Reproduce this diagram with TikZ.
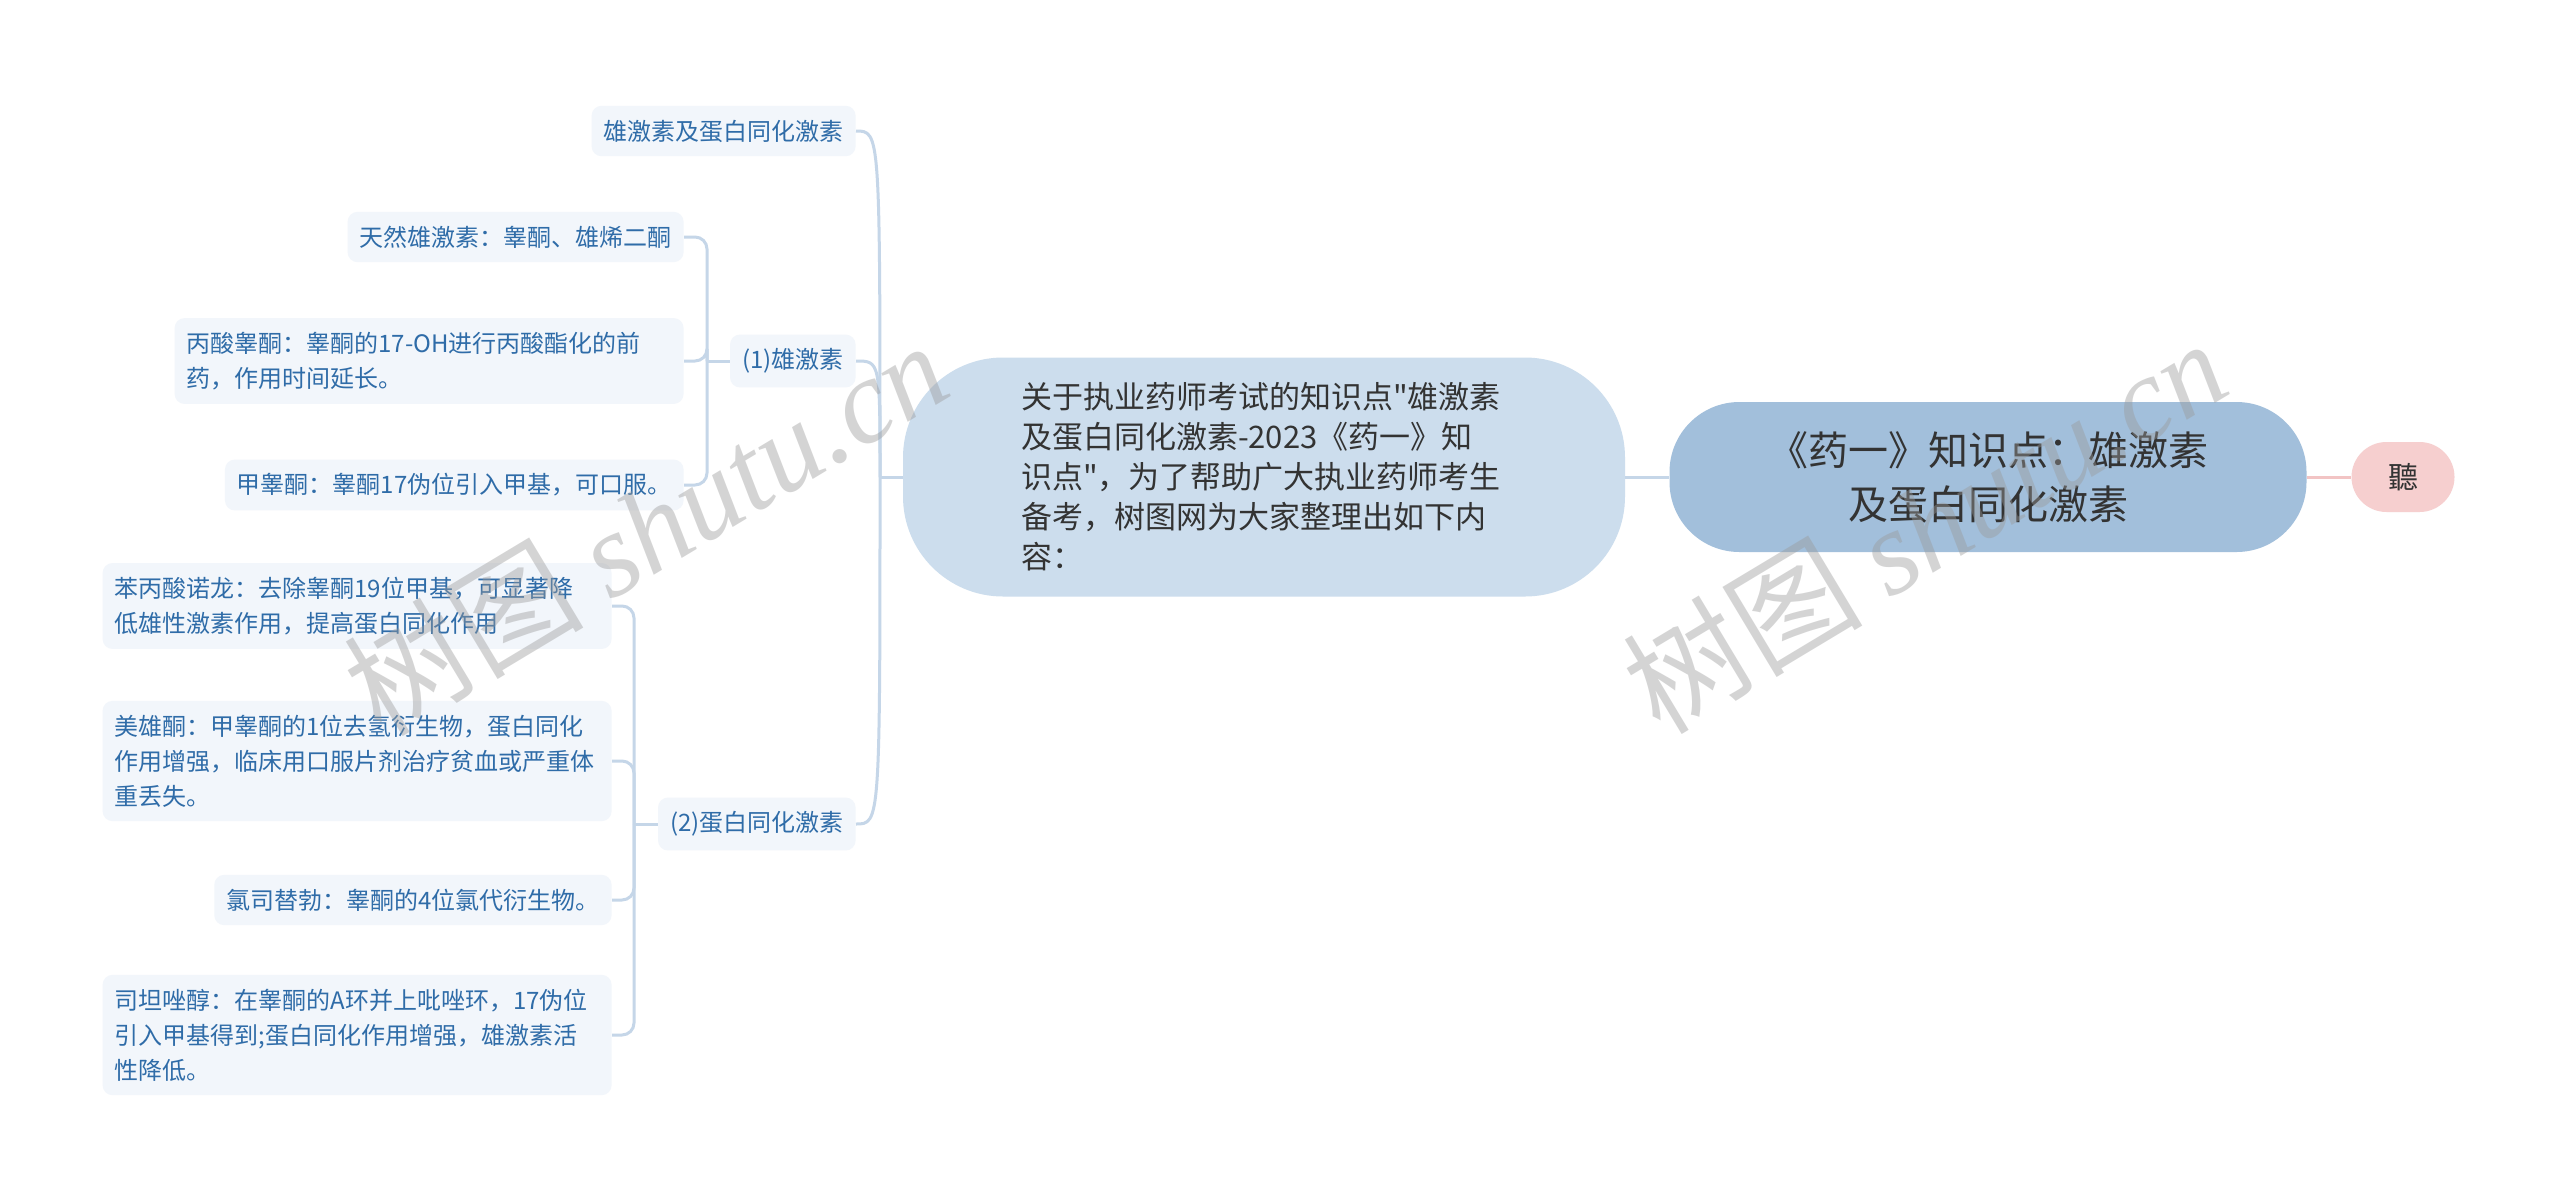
\documentclass[tikz,border=0pt]{standalone}
\usepackage{fontspec}
\setmainfont{Noto Sans CJK SC}[Ligatures=TeXOff]
\newfontfamily\wmfont{Liberation Serif}
\definecolor{linkblue}{HTML}{C5D6E8}
\definecolor{leaffill}{HTML}{F2F6FB}
\definecolor{leaftext}{HTML}{2F6CA8}
\definecolor{descfill}{HTML}{CCDDED}
\definecolor{rootfill}{HTML}{A2BFDB}
\definecolor{tingfill}{HTML}{F6CFCF}
\definecolor{pinkline}{HTML}{F2C4C4}
\definecolor{textdark}{HTML}{333333}
\definecolor{wmgray}{HTML}{9A9A9A}
\tikzset{
  link/.style={draw=linkblue, line width=1.5pt},
  leaf/.style={fill=leaffill, text=leaftext, rounded corners=5pt, inner xsep=6pt, inner ysep=7pt,
    anchor=east, align=left, font=\fontsize{12}{17.5}\selectfont},
  wide/.style={leaf, text width=242.5pt},
  wm/.style={text=wmgray, opacity=0.42, rotate=31, font=\fontsize{60}{60}\selectfont}
}
\begin{document}
\begin{tikzpicture}[x=0.5pt, y=-0.5pt]
\fill[white] (0,0) rectangle (2560,1201);
\useasboundingbox (0,0) rectangle (2560,1201);
\node[fill=rootfill, text=textdark, rounded corners=35pt, minimum width=318.5pt, minimum height=75pt,
  align=center, font=\fontsize{20}{27}\selectfont] (root) at (1988,477) {《药一》知识点：雄激素\\及蛋白同化激素};
\node[fill=tingfill, text=textdark, rounded corners=17.5pt, minimum width=51.5pt, minimum height=35pt,
  font=\fontsize{15}{15}\selectfont] (ting) at (2403,477) {聽};
\node[fill=descfill, text=textdark, rounded corners=50pt, minimum width=361pt, minimum height=119.5pt,
  text width=243pt, align=left, font=\fontsize{15.5}{20}\selectfont] (desc) at (1264,477)
  {关于执业药师考试的知识点"雄激素\\及蛋白同化激素-2023《药一》知\\识点"，为了帮助广大执业药师考生\\备考，树图网为大家整理出如下内\\容：};
\node[leaf] (topic) at (856,131) {雄激素及蛋白同化激素};
\node[leaf] (andro) at (856,361) {(1)雄激素};
\node[leaf] (anab) at (856,824) {(2)蛋白同化激素};
\node[leaf] (natural) at (684,237) {天然雄激素：睾酮、雄烯二酮};
\node[wide] (propionate) at (684,361) {丙酸睾酮：睾酮的17-OH进行丙酸酯化的前\\药，作用时间延长。};
\node[leaf] (methyl) at (684,485) {甲睾酮：睾酮17伪位引入甲基，可口服。};
\node[wide] (nandrolone) at (612,606) {苯丙酸诺龙：去除睾酮19位甲基，可显著降\\低雄性激素作用，提高蛋白同化作用};
\node[wide] (metandienone) at (612,761) {美雄酮：甲睾酮的1位去氢衍生物，蛋白同化\\作用增强，临床用口服片剂治疗贫血或严重体\\重丢失。};
\node[leaf] (clostebol) at (612,900) {氯司替勃：睾酮的4位氯代衍生物。};
\node[wide] (stanozolol) at (612,1035) {司坦唑醇：在睾酮的A环并上吡唑环，17伪位\\引入甲基得到;蛋白同化作用增强，雄激素活\\性降低。};
\coordinate (hubmain) at (880,477);
\coordinate (hubandro) at (707,361);
\coordinate (hubanab) at (634,824);
\draw[link] (desc.east) -- (root.west);
\draw[draw=pinkline, line width=1.5pt] (root.east) -- (ting.west);
\draw[link] (desc.west) -- (hubmain);
\foreach \n in {topic,andro,anab}
  \draw[link] (hubmain) .. controls (hubmain |- \n.east) .. (\n.east);
\draw[link] (andro.west) -- (hubandro);
\foreach \n in {natural,propionate,methyl}
  \draw[link, rounded corners=6pt] (hubandro) |- (\n.east);
\draw[link] (anab.west) -- (hubanab);
\foreach \n in {nandrolone,metandienone,clostebol,stanozolol}
  \draw[link, rounded corners=6pt] (hubanab) |- (\n.east);
\node[wm] (markleft) at (645,527) {树图 {\wmfont\itshape shutu.cn}};
\node[wm] (markright) at (1924,525) {树图 {\wmfont\itshape shutu.cn}};
\end{tikzpicture}
\end{document}
